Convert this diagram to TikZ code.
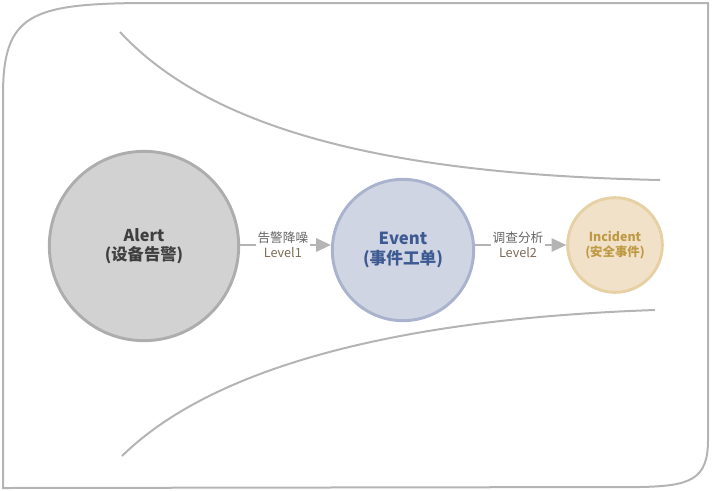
\documentclass[tikz,border=0pt]{standalone}
\usepackage{fontspec}
\setmainfont{Noto Sans CJK SC}
\usetikzlibrary{arrows.meta}
\definecolor{linegray}{HTML}{B4B4B4}
\definecolor{alertfill}{HTML}{D2D2D2}
\definecolor{alertline}{HTML}{ADADAD}
\definecolor{alerttext}{HTML}{3F3F3F}
\definecolor{eventfill}{HTML}{D0D5E3}
\definecolor{eventline}{HTML}{AAB3CE}
\definecolor{eventtext}{HTML}{3D5A93}
\definecolor{incfill}{HTML}{F1E1C9}
\definecolor{incline}{HTML}{E6D0A4}
\definecolor{inctext}{HTML}{BE9A45}
\definecolor{labeltext}{HTML}{666666}
\definecolor{leveltext}{HTML}{7E6B58}
\begin{document}
\begin{tikzpicture}[x=0.75pt, y=-0.75pt,
  frame/.style={draw=linegray, line width=1.5pt},
  stage/.style={circle, line width=2.2pt, inner sep=0pt, align=center, font=\bfseries},
  flow/.style={draw=linegray, line width=1.5pt, -{Triangle[length=11pt,width=10pt]}},
  flowlabel/.style={fill=white, inner sep=1pt, align=center, font=\fontsize{9.5}{11.5}\selectfont}]
\useasboundingbox (0,0) rectangle (712,490);
% outer frame
\draw[frame] (3,488) -- (3,95) .. controls (3,15) and (30,4) .. (140,3) -- (708,3)
  -- (708,440) .. controls (708,480) and (690,486) .. (640,487) -- cycle;
% funnel
\draw[frame] (120,32) .. controls (220,140) and (420,175) .. (660,180);
\draw[frame] (122,456) .. controls (220,360) and (420,318) .. (655,310);
% stages
\node[stage, draw=alertline, fill=alertfill, text=alerttext, minimum size=142pt,
  font=\bfseries\fontsize{12.2}{14.5}\selectfont] (alert) at (144,246) {Alert\\(设备告警)};
\node[stage, draw=eventline, fill=eventfill, text=eventtext, minimum size=106pt,
  font=\bfseries\fontsize{12.5}{14.5}\selectfont] (event) at (403,250) {Event\\(事件工单)};
\node[stage, draw=incline, fill=incfill, text=inctext, minimum size=71pt,
  font=\bfseries\fontsize{9.3}{11.5}\selectfont] (incident) at (615,245) {Incident\\(安全事件)};
% transitions
\draw[flow] (alert.east |- 0,245) -- (event.west |- 0,245)
  node[flowlabel, midway, xshift=-2pt] {\textcolor{labeltext}{告警降噪}\\\textcolor{leveltext}{Level1}};
\draw[flow] (event.east |- 0,245) -- (incident.west |- 0,245)
  node[flowlabel, midway, xshift=-2pt] {\textcolor{labeltext}{调查分析}\\\textcolor{leveltext}{Level2}};
\end{tikzpicture}
\end{document}
